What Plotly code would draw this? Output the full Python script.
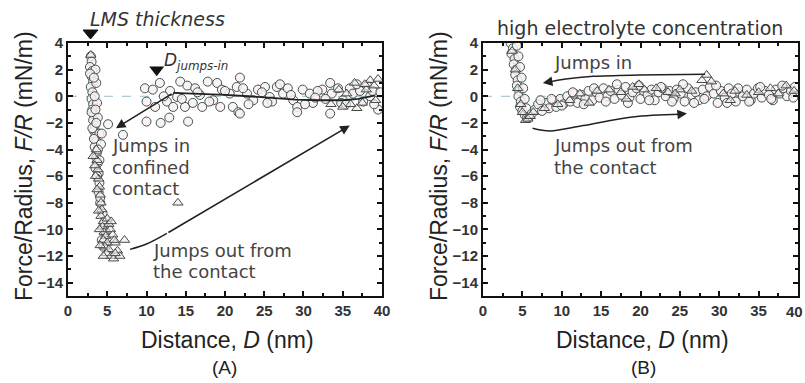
import plotly.graph_objects as go

# ---------------- Panel A data ----------------
a_in_x = [2.9, 3.0, 2.8, 3.1, 3.0, 3.2, 2.9, 3.1, 3.0, 3.2, 3.1, 3.3, 3.2, 3.4, 3.3, 3.5, 3.6, 3.4, 3.7, 3.6,
          3.8, 3.5, 3.9, 3.5, 3.6, 3.7, 3.8, 4.0, 4.2, 4.3, 5.1, 7.0, 4.0, 3.9, 4.1, 4.4, 4.6, 4.8, 4.3, 4.5,
          9.8, 10.8, 11.7, 10.0, 11.1, 10.0, 11.8, 12.9, 15.3, 12.6, 13.9, 14.3, 15.2, 16.2, 16.8, 17.8, 19.0,
          19.6, 18.5, 17.1, 15.9, 14.9, 13.4, 20.6, 21.5, 21.9, 21.0, 21.7, 19.4, 22.8, 23.6, 24.2, 25.1, 25.7,
          26.6, 27.4, 28.0, 28.7, 29.2, 29.9, 30.8, 31.2, 32.4, 33.4, 33.6, 34.4, 33.4, 35.0, 35.9, 38.1, 38.5,
          39.5, 37.6, 21.9, 29.2, 14.5, 16.5, 18.0, 20.0, 23.0, 24.7, 26.0, 27.0, 30.2, 31.8, 32.8, 34.8, 36.3,
          37.2, 39.0, 13.0, 12.2, 22.3, 25.4, 28.4, 31.5, 35.4, 36.8, 38.8, 39.8,
          2.8, 3.3, 3.0, 3.4, 3.1, 3.5, 3.3, 3.6, 3.8, 4.0, 3.7, 4.1]
a_in_y = [3.0, 2.6, 2.2, 1.9, 1.5, 1.1, 0.7, 0.3, -0.2, -0.6, -1.0, -1.4, -1.8, -2.2, -2.6, -3.0, -3.4, -3.8, -4.2, -4.6,
          -5.0, -5.4, -5.8, 2.0, 1.0, -0.5, -1.6, -2.8, -3.6, -2.8, -2.1, -2.9, -6.5, -7.2, -8.0, -8.8, -9.5, -10.2, -10.8, -11.3,
          0.6, 0.5, 1.0, -0.4, -0.8, -1.9, -2.0, -1.6, -1.9, -0.4, -0.05, 1.1, 0.8, 0.6, 0.1, 1.1, 1.0,
          0.5, -0.3, -0.8, -0.5, -0.8, -0.8, 0.2, 0.7, 1.4, -0.8, -1.2, -0.8, 0.2, -0.3, 0.5, 0.7, -0.05,
          0.7, 0.2, 0.6, -0.3, -0.8, 0.5, 0.2, -0.5, 0.5, 1.0, 0.2, 0.6, -1.3, -0.3, 0.6, 0.8, 0.0,
          -1.0, -0.4, -1.3, -1.2, -0.2, 0.3, -0.4, 0.4, -0.6, 0.3, -0.4, 0.9, -0.6, 0.4, -0.2, -0.5, 0.2,
          0.4, -0.6, 0.4, 0.0, 0.6, -0.5, 0.1, -0.1, -0.6, 0.9, 0.4, 0.3,
          1.7, 1.4, -1.2, 0.0, -2.4, -1.0, -3.2, -2.0, -4.0, -4.8, -6.0, -7.6]
a_out_x = [2.9, 3.6, 3.7, 3.8, 3.9, 4.0, 4.1, 4.2, 4.3, 4.2, 4.5, 4.4, 4.6, 4.8, 4.5, 5.0, 4.7, 5.2, 4.9, 5.5,
           4.5, 5.8, 5.4, 5.7, 5.2, 5.0, 6.0, 6.3, 6.6, 6.0, 7.2, 5.5, 5.9, 4.1, 14.0, 3.9, 4.0, 3.7, 3.5, 3.4,
           3.2, 34.5, 35.5, 36.5, 36.8, 38.0, 38.5, 39.0, 39.5, 37.5, 36.0, 39.2, 35.0, 37.8, 33.5]
a_out_y = [3.1, -4.0, -4.8, -5.5, -6.2, -6.8, -7.4, -8.0, -8.5, -9.0, -9.4, -9.8, -10.2, -10.5, -10.8, -11.0, -11.3, -11.5, -11.8, -12.0,
           -12.0, -12.2, -10.0, -10.4, -9.6, -9.2, -11.0, -11.6, -12.0, -11.8, -10.8, -9.4, -10.8, -11.2, -8.0, -8.6, -10.0, -7.0, -6.0, -5.2,
           -4.5, 0.5, 0.2, 1.0, -0.9, 0.5, 1.2, 0.8, 1.3, -0.5, -0.6, -0.3, -0.8, 0.9, -0.6]
a_fit_x = [13.4, 16, 20, 23, 26, 29, 32, 35, 37, 39]
a_fit_y = [0.25, 0.2, 0.1, 0.0, -0.15, -0.25, -0.3, -0.3, -0.2, 0.05]

# ---------------- Panel B data ----------------
b_in_x = [3.5, 3.8, 3.6, 4.0, 3.9, 4.2, 4.1, 4.4, 4.3, 4.6, 4.5, 4.8, 4.7, 5.0, 5.3, 5.6, 5.9, 4.3, 4.5, 4.7,
          4.9, 5.1, 5.3, 5.5, 6.2, 6.6, 7.0, 7.5, 8.0, 8.4, 8.9, 9.3, 9.8, 10.2, 10.7, 11.1, 11.6, 12.0, 12.5, 13.0,
          13.4, 13.9, 14.4, 14.8, 15.3, 15.8, 16.2, 16.7, 17.2, 17.6, 18.1, 18.6, 19.0, 19.5, 20.0, 20.4, 20.9, 21.4,
          21.8, 22.3, 22.8, 23.2, 23.7, 24.2, 24.6, 25.1, 25.6, 26.0, 26.5, 27.0, 27.4, 27.9, 28.4, 28.8, 29.3, 29.8,
          30.2, 30.7, 31.2, 31.6, 32.1, 32.6, 33.0, 33.5, 34.0, 34.4, 34.9, 35.4, 35.8, 36.3, 36.8, 37.2, 37.7, 38.2,
          38.6, 39.1, 39.6, 7.3, 8.7, 10.0, 11.4, 12.8, 14.1, 15.6, 17.0, 18.4, 19.8, 21.1, 22.6, 24.0, 25.4, 26.8,
          28.1, 29.6, 31.0, 32.4, 33.8, 35.2, 36.6, 38.0, 39.4]
b_in_y = [4.0, 3.6, 3.2, 2.8, 2.4, 2.0, 1.6, 1.2, 0.8, 0.4, 0.0, -0.4, -0.8, -1.1, -1.4, -1.6, -1.5, 3.8, 3.0, 2.2,
          1.4, 0.6, -0.2, -0.9, -1.3, -1.0, -0.6, -1.1, -0.5, -0.9, -0.3, -0.8, -0.2, -0.6, 0.0, -0.4, 0.2, -0.5, 0.1, -0.2,
          0.4, -0.3, 0.3, -0.1, 0.6, 0.0, 0.4, -0.2, 0.5, 0.1, 0.7, -0.1, 0.3, 0.6, -0.2, 0.4, 0.1, 0.5,
          -0.3, 0.3, 0.6, 0.0, 0.4, -0.2, 0.5, 0.2, -0.4, 0.6, 0.1, 0.3, -0.3, 0.5, 0.0, 0.7, 0.2, -0.5,
          0.4, -0.1, 0.6, 0.2, -0.4, 0.3, 0.0, 0.5, -0.3, 0.2, 0.6, -0.1, 0.4, 0.1, -0.3, 0.5, 0.2, 0.6,
          0.0, 0.4, 0.7, -0.3, -0.2, -0.7, 0.3, -0.6, 0.6, -0.4, 0.9, -0.5, 0.8, -0.3, 0.7, -0.4, 0.9, -0.5,
          -0.2, 0.8, -0.5, 0.6, -0.4, 0.7, -0.2, 0.8, -0.1]
b_out_x = [3.7, 4.1, 4.4, 4.8, 5.0, 5.4, 5.7, 6.0, 6.4, 7.8, 9.5, 11.0, 12.3, 14.5, 16.0, 17.5, 19.0, 19.8, 20.5, 22.0,
           23.5, 25.0, 26.5, 27.8, 28.4, 29.0, 30.5, 32.0, 33.5, 35.0, 36.5, 37.5, 38.5, 39.5, 13.5, 18.2, 24.4, 31.4]
b_out_y = [3.4, 2.0, 0.6, -0.6, -1.2, -1.8, -1.7, -1.5, -1.2, -0.9, -0.6, -0.3, 0.2, 0.4, 0.5, 0.3, 0.7, 0.9, 0.5, 0.6,
           0.3, 0.5, 0.4, 1.2, 1.6, 1.1, 0.2, 0.4, 0.1, 0.3, 0.6, 0.2, 0.8, 0.4, -0.5, -0.2, 0.2, -0.3]

x_ticks = [0, 5, 10, 15, 20, 25, 30, 35, 40]
y_ticks = [-14, -12, -10, -8, -6, -4, -2, 0, 2, 4]

circ_fill = dict(symbol="circle", size=9, color="rgba(250,240,240,0.85)", line=dict(width=1, color="#3f5254"))
tri = dict(symbol="triangle-up", size=9, color="rgba(235,235,235,0.6)", line=dict(width=1, color="#4a4a4a"))

fig = go.Figure()
for xr, yr, cx, cy, ox, oy in [("x", "y", a_in_x, a_in_y, a_out_x, a_out_y),
                               ("x2", "y2", b_in_x, b_in_y, b_out_x, b_out_y)]:
    fig.add_trace(go.Scatter(x=[0, 40], y=[0, 0], mode="lines", xaxis=xr, yaxis=yr,
                             line=dict(color="#9dbccc", width=1, dash="dash"), showlegend=False))
    fig.add_trace(go.Scatter(x=cx, y=cy, mode="markers", marker=circ_fill, xaxis=xr, yaxis=yr, showlegend=False))
    fig.add_trace(go.Scatter(x=ox, y=oy, mode="markers", marker=tri, xaxis=xr, yaxis=yr, showlegend=False))

fig.add_trace(go.Scatter(x=a_fit_x, y=a_fit_y, mode="lines", line=dict(color="#222", width=1.8),
                         xaxis="x", yaxis="y", showlegend=False))
# curved parts of arrows
fig.add_trace(go.Scatter(x=[7.9, 10.0, 12.6], y=[-11.5, -11.1, -10.3], mode="lines", line=dict(color="#222", width=1.5, shape="spline"),
                         xaxis="x", yaxis="y", showlegend=False))
fig.add_trace(go.Scatter(x=[28.2, 20, 14, 10.5, 8.6], y=[1.65, 1.6, 1.5, 1.3, 1.1], mode="lines",
                         line=dict(color="#222", width=1.5, shape="spline"), xaxis="x2", yaxis="y2", showlegend=False))
fig.add_trace(go.Scatter(x=[6.3, 8.5, 12.7, 19.0, 25.0], y=[-2.4, -2.6, -2.2, -1.55, -1.35], mode="lines",
                         line=dict(color="#222", width=1.5, shape="spline"), xaxis="x2", yaxis="y2", showlegend=False))
# D_jumps-in marker
fig.add_trace(go.Scatter(x=[11.3], y=[2.0], mode="markers", marker=dict(symbol="triangle-down", size=13, color="#111"),
                         xaxis="x", yaxis="y", showlegend=False))

tickfont = dict(family="Liberation Sans", size=15, color="#333", weight="bold")
for ax_x, ax_y, dom in [("xaxis", "yaxis", [0.0845, 0.4745]), ("xaxis2", "yaxis2", [0.600, 0.9913])]:
    fig.layout[ax_x] = dict(domain=dom, range=[0, 40], tickvals=x_ticks, ticks="inside", ticklen=5, tickwidth=1.5,
                            showline=True, linecolor="#111", linewidth=2, mirror="ticks", showgrid=False, zeroline=False,
                            tickfont=tickfont, minor=dict(dtick=2.5, ticks="inside", ticklen=3, tickcolor="#111"),
                            tickcolor="#111", anchor=ax_y.replace("axis", ""), automargin=False)
    fig.layout[ax_y] = dict(domain=[0.2272, 0.8877], range=[-15, 4], tickvals=y_ticks, ticks="inside", ticklen=5, tickwidth=1.5,
                            showline=True, linecolor="#111", linewidth=2, mirror="ticks", showgrid=False, zeroline=False,
                            tickfont=tickfont, minor=dict(dtick=1, ticks="inside", ticklen=3, tickcolor="#111"),
                            tickcolor="#111", anchor=ax_x.replace("axis", ""), automargin=False)

ann_font = dict(family="DejaVu Sans", size=18, color="#444")
title_font = dict(family="Liberation Sans", size=23, color="#222")
C = dict(xanchor="center", yanchor="middle", showarrow=False)
L = dict(xanchor="left", yanchor="middle", showarrow=False)
anns = [
    dict(text="Force/Radius, <i>F/R</i> (mN/m)", x=24/805, y=1-166/383, xref="paper", yref="paper", textangle=-90, font=title_font, **C),
    dict(text="Force/Radius, <i>F/R</i> (mN/m)", x=439/805, y=1-166/383, xref="paper", yref="paper", textangle=-90, font=title_font, **C),
    dict(text="Distance, <i>D</i> (nm)", x=227/805, y=1-340/383, xref="paper", yref="paper", font=title_font, **C),
    dict(text="Distance, <i>D</i> (nm)", x=642/805, y=1-340/383, xref="paper", yref="paper", font=title_font, **C),
    dict(text="(A)", x=225/805, y=1-367/383, xref="paper", yref="paper", font=dict(family="Liberation Sans", size=19, color="#222"), **C),
    dict(text="(B)", x=643/805, y=1-367/383, xref="paper", yref="paper", font=dict(family="Liberation Sans", size=19, color="#222"), **C),
    dict(text="40", x=1.0, y=1-311/383, xref="paper", yref="paper", font=tickfont, xanchor="right", yanchor="middle", showarrow=False),
    dict(text="<i>LMS thickness</i>", x=157/805, y=1-19/383, xref="paper", yref="paper", font=dict(family="DejaVu Sans", size=19, color="#333"), **C),
    dict(text="high electrolyte concentration", x=640/805, y=1-28/383, xref="paper", yref="paper", font=dict(family="DejaVu Sans", size=19, color="#333"), **C),
    dict(text="<i>D</i><sub><i>jumps-in</i></sub>", x=12.0, y=2.6, xref="x", yref="y", font=dict(family="DejaVu Sans", size=17, color="#333"), **L),
    dict(text="Jumps in", x=5.3, y=-3.67, xref="x", yref="y", font=ann_font, **L),
    dict(text="confined", x=5.3, y=-5.32, xref="x", yref="y", font=ann_font, **L),
    dict(text="contact", x=5.3, y=-6.90, xref="x", yref="y", font=ann_font, **L),
    dict(text="Jumps out from", x=10.6, y=-11.56, xref="x", yref="y", font=ann_font, **L),
    dict(text="the contact", x=10.6, y=-13.14, xref="x", yref="y", font=ann_font, **L),
    dict(text="Jumps in", x=8.8, y=2.57, xref="x2", yref="y2", font=ann_font, **L),
    dict(text="Jumps out from", x=8.8, y=-3.67, xref="x2", yref="y2", font=ann_font, **L),
    dict(text="the contact", x=8.8, y=-5.32, xref="x2", yref="y2", font=ann_font, **L),
    # arrows
    dict(x=6.1, y=-2.4, ax=13.4, ay=0.25, xref="x", yref="y", axref="x", ayref="y", text="", showarrow=True,
         arrowhead=2, arrowsize=1.2, arrowwidth=1.6, arrowcolor="#222"),
    dict(x=35.9, y=-2.2, ax=12.6, ay=-10.3, xref="x", yref="y", axref="x", ayref="y", text="", showarrow=True,
         arrowhead=2, arrowsize=1.2, arrowwidth=1.6, arrowcolor="#222"),
    dict(x=7.6, y=1.0, ax=8.6, ay=1.1, xref="x2", yref="y2", axref="x2", ayref="y2", text="", showarrow=True,
         arrowhead=2, arrowsize=1.2, arrowwidth=1.6, arrowcolor="#222"),
    dict(x=25.9, y=-1.3, ax=25.0, ay=-1.35, xref="x2", yref="y2", axref="x2", ayref="y2", text="", showarrow=True,
         arrowhead=2, arrowsize=1.2, arrowwidth=1.6, arrowcolor="#222"),
]
# LMS thickness marker triangle above the plot
y_top = 1 - 30/383
y_tip = 1 - 39/383
shapes = [dict(type="path", xref="paper", yref="paper",
               path=f"M {83/805},{y_top} L {98/805},{y_top} L {90.5/805},{y_tip} Z",
               fillcolor="#111", line=dict(color="#111", width=1))]
fig.update_layout(width=805, height=383, margin=dict(l=0, r=0, t=0, b=0, autoexpand=False), paper_bgcolor="white", plot_bgcolor="white",
                  annotations=anns, shapes=shapes, showlegend=False)
fig.write_html("out.html", config={"displayModeBar": False},
               post_script="document.body.style.margin='0px';document.body.style.overflow='hidden';")
